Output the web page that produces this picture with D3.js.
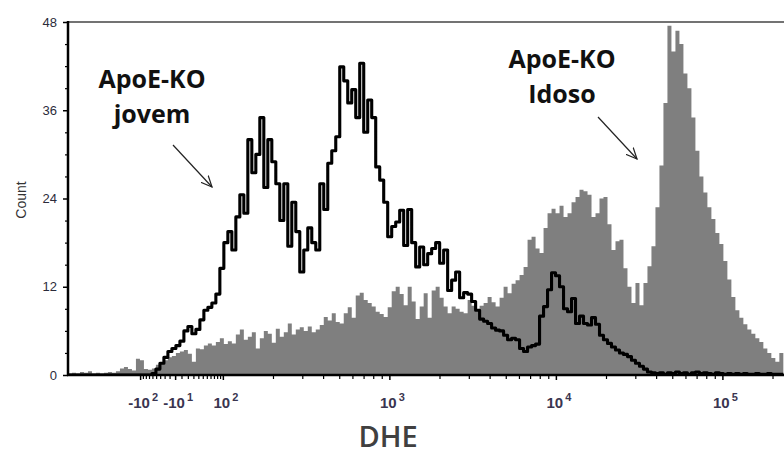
<!DOCTYPE html>
<html>
<head>
<meta charset="utf-8">
<script src="https://cdn.jsdelivr.net/npm/d3@7"></script>
<style>
  body { margin: 0; background: #fff; }
  svg { display: block; }
  .tick text { font-family: "Liberation Sans", Arial, sans-serif; }
</style>
</head>
<body>
<div class="chart"></div>
<script>
// Histogram bins, 0.024 display decades wide, starting at 1.07 decades
const binStart = 1.07;
const binStep = 0.024;

// ApoE-KO Idoso (grey filled histogram), counts per bin
const idosoCounts = [
    0.2, 0.3, 0.2, 0.4, 0.3, 0.5, 0.2, 0.3, 0.2, 0.3,
    0.4, 0.3, 0.5, 0.9, 1.1, 0.8, 0.6, 2.2, 2.0, 0.8,
    0.7, 0.9, 1.4, 1.6, 2.0, 2.4, 2.6, 3.0, 3.2, 3.4,
    2.9, 1.8, 3.6, 3.5, 4.0, 4.3, 4.0, 4.5, 5.0, 4.2,
    4.6, 4.3, 5.5, 6.2, 4.8, 5.2, 5.8, 3.6, 5.0, 6.0,
    5.6, 4.4, 6.3, 5.2, 5.8, 7.0, 5.5, 6.2, 6.5, 6.0,
    6.6, 5.8, 6.2, 6.8, 7.9, 7.4, 8.4, 7.2, 7.0, 8.4,
    9.2, 7.8, 10.8, 11.2, 10.2, 9.8, 9.3, 8.6, 8.3, 7.9,
    9.2, 11.4, 12.0, 11.0, 9.5, 12.0, 10.0, 7.6, 9.3, 11.1,
    7.8, 11.5, 12.0, 10.5, 9.3, 8.4, 9.3, 9.0, 8.6, 8.4,
    10.2, 9.4, 8.8, 9.4, 9.8, 10.6, 9.9, 9.3, 10.5, 12.0,
    11.1, 12.4, 12.9, 13.6, 14.7, 18.4, 18.8, 17.2, 16.6, 20.0,
    22.0, 22.6, 22.0, 23.0, 21.5, 22.0, 23.5, 24.2, 25.2, 25.0,
    24.5, 21.5, 22.0, 24.0, 24.2, 20.5, 17.0, 18.2, 18.4, 14.5,
    12.0, 9.8, 12.5, 9.5, 12.5, 14.8, 17.5, 22.8, 28.5, 37.0,
    47.5, 44.0, 46.8, 45.0, 41.0, 39.0, 35.0, 30.5, 27.0, 24.8,
    22.8, 21.2, 19.3, 17.8, 15.5, 13.0, 10.6, 8.8, 7.8, 6.9,
    6.2, 5.6, 5.0, 4.5, 3.6, 3.0, 2.3, 1.8, 3.0
];

// ApoE-KO jovem (black outline histogram), counts per bin
const jovemCounts = [
    0, 0, 0, 0, 0, 0, 0, 0, 0, 0,
    0, 0, 0, 0, 0, 0, 0, 0, 0, 0,
    0, 0.2, 0.8, 1.6, 2.4, 3.2, 3.6, 4.0, 4.6, 6.0,
    6.6, 5.6, 6.2, 7.5, 8.8, 9.2, 9.8, 11.0, 14.5, 18.0,
    19.5, 17.0, 21.5, 24.5, 22.0, 32.0, 27.5, 30.0, 35.0, 25.5,
    32.0, 29.0, 26.0, 21.0, 26.0, 17.5, 23.5, 19.5, 14.0, 17.0,
    20.0, 18.0, 17.0, 26.0, 22.5, 28.8, 30.5, 32.4, 41.9, 40.0,
    37.0, 38.8, 35.0, 42.4, 33.0, 37.4, 35.0, 28.3, 26.5, 23.5,
    18.8, 20.2, 20.8, 22.4, 17.6, 22.5, 18.0, 14.7, 17.4, 15.0,
    16.5, 17.2, 18.0, 15.2, 17.0, 11.5, 12.9, 14.0, 10.5, 11.2,
    11.0, 10.0, 8.8, 7.6, 7.3, 7.0, 6.4, 6.1, 6.0, 5.4,
    4.8, 5.0, 4.8, 3.6, 3.2, 3.8, 4.0, 4.2, 8.0, 9.3,
    11.6, 13.9, 13.5, 12.0, 9.0, 8.6, 10.4, 7.0, 8.0, 7.0,
    6.8, 7.8, 6.9, 5.4, 4.8, 4.3, 3.8, 3.4, 3.0, 2.8,
    2.5, 2.0, 1.6, 1.2, 0.8, 0.4, 0.3, 0.2, 0.3, 0.1,
    0.3, 0.2, 0.4, 0.2, 0.3, 0.1, 0.3, 0.4, 0.2, 0.3,
    0.2, 0.1, 0.3, 0.2, 0.1, 0.2, 0.1, 0.2, 0.1, 0.2,
    0.1, 0.1, 0.2, 0.1, 0.1, 0.2, 0.1, 0.1, 0.1
];

// Axis ticks
const yMajorTicks = [0, 12, 24, 36, 48];
const yMinorTicks = [3, 6, 9, 15, 18, 21, 27, 30, 33, 39, 42, 45];
const xMajorTicks = [-100, -10, 100, 1000, 10000, 100000];
const xMajorLabels = [['-10', '2'], ['-10', '1'], ['10', '2'], ['10', '3'], ['10', '4'], ['10', '5']];
const xNearZeroTicks = [-90, -80, -70, -60, -50, -40, -30, -20, 0, 10, 20, 30, 40, 50, 60, 70, 80, 90];
const xMinorTicks = [200, 300, 400, 500, 600, 700, 800, 900,
    2000, 3000, 4000, 5000, 6000, 7000, 8000, 9000,
    20000, 30000, 40000, 50000, 60000, 70000, 80000, 90000,
    200000];

const width = 784;
const height = 456;

// Logicle-like display: symlog near zero, log above 10^2 (in decades)
const nearZero = d3.scaleSymlog().constant(65).domain([-100, 100]).range([1.503, 2]);
const logPart = d3.scaleLog().domain([100, 1e6]).range([2, 6]);
const decades = v => v >= 100 ? logPart(v) : nearZero(v);

const x = d3.scaleLinear().domain([1.07, 5.37]).range([68, 784]);
const y = d3.scaleLinear().domain([0, 48]).range([375, 22]);

const svg = d3.select('.chart')
    .append('svg')
    .attr('width', width)
    .attr('height', height);

svg.append('clipPath').attr('id', 'plot-clip')
    .append('rect')
    .attr('x', 68).attr('y', 0)
    .attr('width', width - 68).attr('height', 376);

const toPoints = counts => {
    const pts = counts.map((c, i) => [binStart + i * binStep, c]);
    pts.push([binStart + counts.length * binStep, counts[counts.length - 1]]);
    return pts;
};

// Grey histogram
const area = d3.area()
    .curve(d3.curveStepAfter)
    .x(d => x(d[0]))
    .y0(y(0))
    .y1(d => y(d[1]));

svg.append('path')
    .datum(toPoints(idosoCounts))
    .attr('clip-path', 'url(#plot-clip)')
    .attr('fill', '#7f7f7f')
    .attr('d', area);

// Black histogram outline
const line = d3.line()
    .curve(d3.curveStepAfter)
    .x(d => x(d[0]))
    .y(d => y(d[1]));

svg.append('path')
    .datum(toPoints(jovemCounts))
    .attr('clip-path', 'url(#plot-clip)')
    .attr('fill', 'none')
    .attr('stroke', '#000')
    .attr('stroke-width', 3.1)
    .attr('stroke-linejoin', 'round')
    .attr('d', line);

// Y axis
const yAxis = svg.append('g')
    .attr('transform', 'translate(68,0)')
    .call(d3.axisLeft(y).tickValues(yMajorTicks).tickSize(5).tickPadding(6));
yAxis.select('.domain').remove();
yAxis.selectAll('.tick line').attr('stroke', '#000').attr('stroke-width', 1.5);
yAxis.selectAll('.tick text').attr('font-size', 13).attr('fill', '#2b2b3a');

const yMinor = svg.append('g')
    .attr('transform', 'translate(68,0)')
    .call(d3.axisLeft(y).tickValues(yMinorTicks).tickSize(3).tickFormat(''));
yMinor.select('.domain').remove();
yMinor.selectAll('.tick line').attr('stroke', '#000').attr('stroke-width', 1.2);

// X axis
const xAxis = svg.append('g')
    .attr('transform', 'translate(0,375)')
    .call(d3.axisBottom(x).tickValues(xMajorTicks.map(decades)).tickSize(5).tickFormat(''));
xAxis.select('.domain').remove();
xAxis.selectAll('.tick line').attr('stroke', '#000').attr('stroke-width', 1.5);

const xMinor = svg.append('g')
    .attr('transform', 'translate(0,375)')
    .call(d3.axisBottom(x)
        .tickValues(xMinorTicks.concat(xNearZeroTicks).map(decades))
        .tickSize(4).tickFormat(''));
xMinor.select('.domain').remove();
xMinor.selectAll('.tick line').attr('stroke', '#000').attr('stroke-width', 1.2);

const xLabels = svg.append('g')
    .selectAll('text')
    .data(xMajorTicks)
    .join('text')
    .attr('x', d => x(decades(d)) + 3)
    .attr('y', 408)
    .attr('text-anchor', 'middle')
    .attr('font-family', '"Liberation Sans", Arial, sans-serif')
    .attr('font-size', 15)
    .attr('font-weight', 'bold')
    .attr('fill', '#3a3550');
xLabels.append('tspan').text((d, i) => xMajorLabels[i][0]);
xLabels.append('tspan')
    .attr('dx', 2)
    .attr('dy', -7)
    .attr('font-size', 11)
    .text((d, i) => xMajorLabels[i][1]);

// Frame lines
svg.append('line')
    .attr('x1', 68).attr('x2', width).attr('y1', 22).attr('y2', 22)
    .attr('stroke', '#444').attr('stroke-width', 1.5);
svg.append('line')
    .attr('x1', 68).attr('x2', 68).attr('y1', 21).attr('y2', 376)
    .attr('stroke', '#000').attr('stroke-width', 2.5);
svg.append('line')
    .attr('x1', 67).attr('x2', width).attr('y1', 375).attr('y2', 375)
    .attr('stroke', '#000').attr('stroke-width', 2.5);

// Axis titles
svg.append('text')
    .attr('transform', 'translate(26,200) rotate(-90)')
    .attr('text-anchor', 'middle')
    .attr('font-family', '"Liberation Sans", Arial, sans-serif')
    .attr('font-size', 14)
    .attr('fill', '#333')
    .text('Count');

svg.append('text')
    .attr('x', 388)
    .attr('y', 447)
    .attr('text-anchor', 'middle')
    .attr('font-family', '"Open Sans", sans-serif')
    .attr('font-weight', 600)
    .attr('font-size', 29)
    .attr('fill', '#404040')
    .text('DHE');

// Annotations
const defs = svg.append('defs');
defs.append('marker')
    .attr('id', 'open-arrow')
    .attr('viewBox', '0 0 12 12')
    .attr('refX', 11).attr('refY', 6)
    .attr('markerWidth', 12).attr('markerHeight', 12)
    .attr('markerUnits', 'userSpaceOnUse')
    .attr('orient', 'auto')
    .append('path')
    .attr('d', 'M0,1 L11,6 L0,11')
    .attr('fill', 'none')
    .attr('stroke', '#222')
    .attr('stroke-width', 1.2);

const notes = [
    {lines: ['ApoE-KO', 'jovem'], cx: 152, top: 88, arrow: [173, 145, 212, 187]},
    {lines: ['ApoE-KO', 'Idoso'], cx: 562, top: 68, arrow: [598, 117, 637, 159]}
];

notes.forEach(n => {
    svg.append('g')
        .selectAll('text')
        .data(n.lines)
        .join('text')
        .attr('x', n.cx)
        .attr('y', (d, i) => n.top + i * 35)
        .attr('text-anchor', 'middle')
        .attr('font-family', '"Open Sans", sans-serif')
        .attr('font-weight', 700)
        .attr('font-size', 25)
        .attr('fill', '#111')
        .text(d => d);

    svg.append('line')
        .attr('x1', n.arrow[0]).attr('y1', n.arrow[1])
        .attr('x2', n.arrow[2]).attr('y2', n.arrow[3])
        .attr('stroke', '#222')
        .attr('stroke-width', 1.2)
        .attr('marker-end', 'url(#open-arrow)');
});
</script>
</body>
</html>
